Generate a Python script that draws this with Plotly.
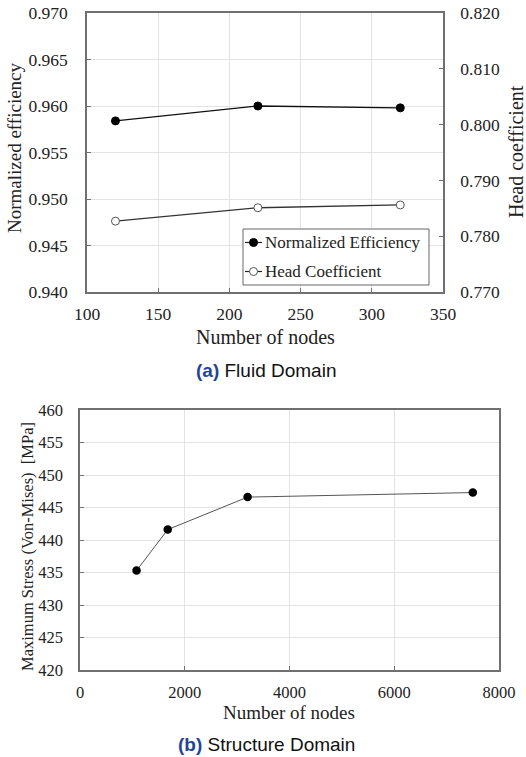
import plotly.graph_objects as go

# ---- data (a) Fluid Domain ----
fluid_nodes = [120, 220, 320]
norm_eff = [0.9584, 0.9600, 0.9598]
head_coef = [0.7827, 0.7851, 0.7856]
legend_names = ["Normalized Efficiency", "Head Coefficient"]

# ---- data (b) Structure Domain ----
struct_nodes = [1080, 1675, 3200, 7500]
max_stress = [435.3, 441.6, 446.6, 447.3]

W, H = 526, 757
SERIF = "Liberation Serif"
SANS = "Liberation Sans"

def px(x):
    return x / W

def py(y):
    return 1 - y / H

fig = go.Figure()

fig.add_trace(go.Scatter(
    x=fluid_nodes, y=norm_eff, name=legend_names[0], showlegend=False,
    mode="lines+markers", xaxis="x", yaxis="y",
    line=dict(color="#111111", width=1.3),
    marker=dict(symbol="circle", size=8, color="#000000", line=dict(color="#000000", width=1)),
))
fig.add_trace(go.Scatter(
    x=fluid_nodes, y=head_coef, name=legend_names[1], showlegend=False,
    mode="lines+markers", xaxis="x", yaxis="y2",
    line=dict(color="#333333", width=1.3),
    marker=dict(symbol="circle", size=8, color="#ffffff", line=dict(color="#555555", width=1)),
))
fig.add_trace(go.Scatter(
    x=struct_nodes, y=max_stress, name="Max stress", showlegend=False,
    mode="lines+markers", xaxis="x2", yaxis="y3",
    line=dict(color="#555555", width=1),
    marker=dict(symbol="circle", size=8.5, color="#000000"),
))

axis_common = dict(
    showline=True, linecolor="#707070", linewidth=1.5, mirror=True,
    showgrid=True, gridcolor="#e3e3e3", gridwidth=1, automargin=False,
    zeroline=False, ticks="inside", ticklen=4, tickcolor="#707070",
)

top_dom = [py(292), py(13)]
bot_dom = [py(670), py(410)]

fig.update_layout(
    width=W, height=H,
    margin=dict(l=0, r=0, t=0, b=0, pad=0, autoexpand=False),
    paper_bgcolor="white", plot_bgcolor="white",
    font=dict(family=SERIF, color="#222222"),
    showlegend=False,
    xaxis=dict(axis_common, domain=[px(87), px(443)], anchor="y",
               range=[100, 350], tickvals=[100, 150, 200, 250, 300, 350],
               tickfont=dict(size=17.5, family=SERIF), ticklabelstandoff=5),
    yaxis=dict(axis_common, domain=top_dom, anchor="x",
               range=[0.940, 0.970], tickvals=[0.940, 0.945, 0.950, 0.955, 0.960, 0.965, 0.970],
               tickformat=".3f", tickfont=dict(size=17.5, family=SERIF), ticklabelstandoff=14),
    yaxis2=dict(domain=top_dom, anchor="x", overlaying="y", side="right", automargin=False,
                range=[0.770, 0.820], tickvals=[0.770, 0.780, 0.790, 0.800, 0.810, 0.820],
                tickformat=".3f", tickfont=dict(size=17.5, family=SERIF),
                showgrid=False, zeroline=False, showline=True, linecolor="#707070", linewidth=1.5,
                ticks="inside", ticklen=4, tickcolor="#707070", ticklabelstandoff=12),
    xaxis2=dict(axis_common, domain=[px(80), px(499)], anchor="y3",
                range=[0, 8000], tickvals=[0, 2000, 4000, 6000, 8000],
                tickfont=dict(size=16.5, family=SERIF), ticklabelstandoff=6),
    yaxis3=dict(axis_common, domain=bot_dom, anchor="x2",
                range=[420, 460], tickvals=list(range(420, 461, 5)),
                tickfont=dict(size=16.5, family=SERIF), ticklabelstandoff=12),
)

ann = []
def text(x, y, s, size, family=SERIF, angle=0, color="#222222", xanchor="center"):
    ann.append(dict(x=px(x), y=py(y), xref="paper", yref="paper", text=s,
                    showarrow=False, xanchor=xanchor, yanchor="middle",
                    textangle=angle, font=dict(family=family, size=size, color=color)))

text(15, 148, "Normalized efficiency", 19, angle=-90)
text(516, 152, "Head coefficient", 20, angle=-90)
text(265, 337, "Number of nodes", 20)
text(266, 370, "<b><span style='color:#1f4596'>(a)</span></b> Fluid Domain", 19, family=SANS, color="#111111")
text(27, 547, "Maximum Stress (Von-Mises)\u00a0 [MPa]", 16.5, angle=-90)
text(289, 712, "Number of nodes", 19)
text(266, 744, "<b><span style='color:#1f4596'>(b)</span></b> Structure Domain", 19, family=SANS, color="#111111")

# ---- custom legend (box, sample lines, markers, labels) ----
shapes = []
shapes.append(dict(type="rect", xref="paper", yref="paper",
                   x0=px(243), x1=px(429), y0=py(285), y1=py(229),
                   line=dict(color="#666666", width=1), fillcolor="white", layer="above"))
leg_rows = [242.5, 271.5]
leg_fill = ["#000000", "#ffffff"]
leg_edge = ["#000000", "#555555"]
for i, yy in enumerate(leg_rows):
    shapes.append(dict(type="line", xref="paper", yref="paper",
                       x0=px(245), x1=px(262), y0=py(yy), y1=py(yy),
                       line=dict(color="#222222", width=1.2), layer="above"))
    shapes.append(dict(type="circle", xref="paper", yref="paper",
                       x0=px(249.5), x1=px(257.5), y0=py(yy + 4), y1=py(yy - 4),
                       line=dict(color=leg_edge[i], width=1), fillcolor=leg_fill[i], layer="above"))
    text(263, yy, legend_names[i], 17, xanchor="left")

fig.update_layout(annotations=ann, shapes=shapes)

fig.write_html("out.html")
